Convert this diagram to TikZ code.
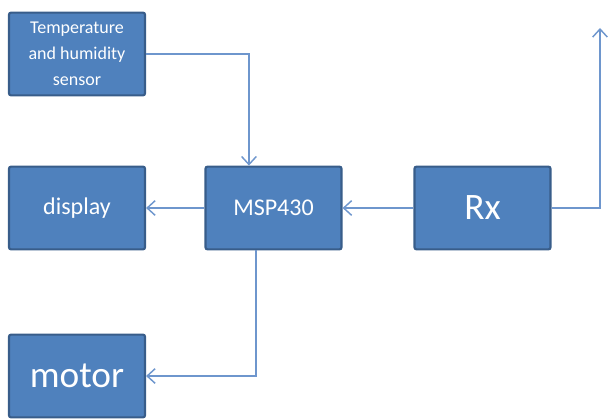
\documentclass[tikz,border=0pt]{standalone}
\usepackage{fontspec}
\setmainfont{Carlito}
\usepackage{tikz}
\usetikzlibrary{calc,positioning,arrows.meta}
\usepackage{xcolor}
\definecolor{boxblue}{RGB}{79,129,189}
\definecolor{edgeblue}{RGB}{56,93,138}
\definecolor{lineblue}{RGB}{110,150,205}

\begin{document}
\begin{tikzpicture}[x=0.75pt,y=-0.75pt,
  blk/.style={draw=edgeblue, line width=1.6pt, fill=boxblue, rounded corners=1.5pt,
    minimum width=102pt, minimum height=62pt, text=white, align=center, inner sep=2pt},
  link/.style={lineblue, line width=1.1pt, -{Straight Barb[length=6pt,width=11pt]}}]
  \useasboundingbox (0,0) rectangle (613,420);
  \node[blk, font=\fontsize{13.5}{19.5}\selectfont] (sensor) at (77,54) {Temperature\\and humidity\\sensor};
  \node[blk, font=\fontsize{18}{20}\selectfont] (display) at (77,208) {display};
  \node[blk, font=\fontsize{18}{20}\selectfont] (msp) at (273.5,208) {MSP430};
  \node[blk, font=\fontsize{28}{30}\selectfont] (rx) at (482.5,208) {Rx};
  \node[blk, font=\fontsize{28}{30}\selectfont] (motor) at (77,376) {motor};
  \coordinate (out) at (600,28);
  % connections
  \draw[link] (sensor.east) -| ([xshift=-18.4pt]msp.north);
  \draw[link] (msp.west) -- (display.east);
  \draw[link] (rx.west) -- (msp.east);
  \draw[link] (rx.east) -| (out);
  \draw[link] ([xshift=-13.1pt]msp.south) |- (motor.east);
\end{tikzpicture}
\end{document}
